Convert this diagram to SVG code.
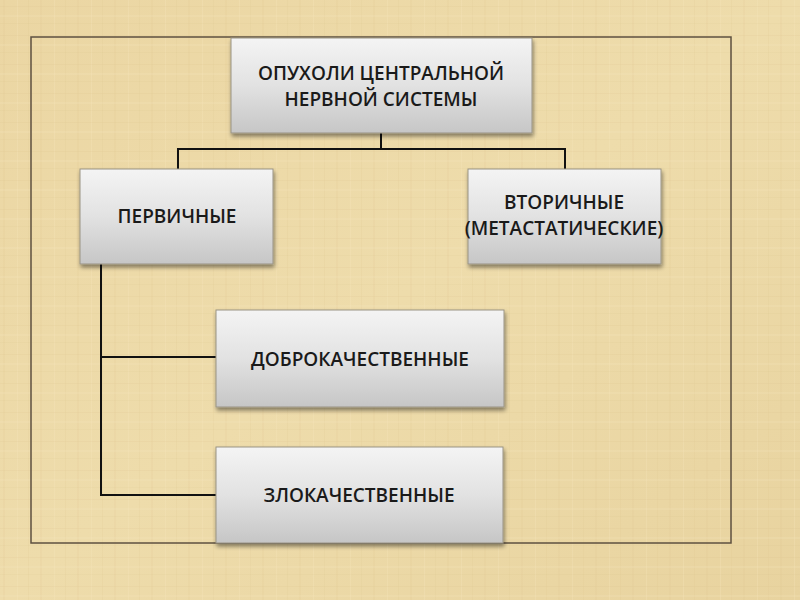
<svg xmlns="http://www.w3.org/2000/svg" width="800" height="600" viewBox="0 0 800 600">
  <defs>
    <linearGradient id="boxGrad" x1="0" y1="0" x2="0" y2="1">
      <stop offset="0" stop-color="#f4f4f4"/>
      <stop offset="0.5" stop-color="#e2e2e2"/>
      <stop offset="1" stop-color="#c6c6c6"/>
    </linearGradient>
    <linearGradient id="bgGrad" x1="0" y1="0" x2="1" y2="1">
      <stop offset="0" stop-color="#ebd6a3"/>
      <stop offset="0.5" stop-color="#eedcab"/>
      <stop offset="1" stop-color="#e8d39f"/>
    </linearGradient>
    <pattern id="papyrus" width="37" height="29" patternUnits="userSpaceOnUse">
      <rect x="3" y="0" width="2" height="29" fill="#d9c08a" opacity="0.15"/>
      <rect x="17" y="0" width="1" height="29" fill="#f6e8c0" opacity="0.25"/>
      <rect x="28" y="0" width="1" height="29" fill="#d6bd88" opacity="0.12"/>
      <rect x="0" y="6" width="37" height="1" fill="#d4ba84" opacity="0.15"/>
      <rect x="0" y="15" width="37" height="2" fill="#f5e6bd" opacity="0.2"/>
      <rect x="0" y="23" width="37" height="1" fill="#d4ba84" opacity="0.1"/>
    </pattern>
    <filter id="shadow" x="-10%" y="-10%" width="125%" height="130%">
      <feGaussianBlur in="SourceAlpha" stdDeviation="2"/>
      <feOffset dx="1" dy="3" result="b"/>
      <feComponentTransfer><feFuncA type="linear" slope="0.45"/></feComponentTransfer>
      <feMerge><feMergeNode/><feMergeNode in="SourceGraphic"/></feMerge>
    </filter>
  </defs>
  <style>
    .box { fill: url(#boxGrad); stroke: #9a9384; stroke-width: 1; filter: url(#shadow); }
    .lbl { font-family: "Open Sans", "Liberation Sans", sans-serif; font-weight: 600; font-size: 19px; fill: #1a1a1a; text-anchor: middle; }
    .conn { fill: none; stroke: #111; stroke-width: 2; }
    .frame { fill: none; stroke: #5e5040; stroke-width: 1.5; }
  </style>

  <rect width="800" height="600" fill="url(#bgGrad)"/>
  <rect width="800" height="600" fill="url(#papyrus)"/>
  <rect class="frame" x="31" y="37" width="700" height="506"/>

  <g id="connectors">
    <path class="conn" d="M381 133 V149 M178 169 V149 H565 V169"/>
    <path class="conn" d="M101 264 V495 H216 M101 357 H216"/>
  </g>

  <g id="root">
    <rect class="box" x="231" y="38" width="301" height="95"/>
    <text class="lbl" x="381" y="80">ОПУХОЛИ ЦЕНТРАЛЬНОЙ</text>
    <text class="lbl" x="381" y="106">НЕРВНОЙ СИСТЕМЫ</text>
  </g>
  <g id="primary">
    <rect class="box" x="80" y="169" width="193" height="95"/>
    <text class="lbl" x="177" y="223">ПЕРВИЧНЫЕ</text>
  </g>
  <g id="secondary">
    <rect class="box" x="468" y="169" width="193" height="95"/>
    <text class="lbl" x="564" y="209">ВТОРИЧНЫЕ</text>
    <text class="lbl" x="564" y="235">(МЕТАСТАТИЧЕСКИЕ)</text>
  </g>
  <g id="benign">
    <rect class="box" x="216" y="310" width="288" height="97"/>
    <text class="lbl" x="360" y="366">ДОБРОКАЧЕСТВЕННЫЕ</text>
  </g>
  <g id="malignant">
    <rect class="box" x="216" y="447" width="287" height="96"/>
    <text class="lbl" x="359" y="502">ЗЛОКАЧЕСТВЕННЫЕ</text>
  </g>
</svg>
